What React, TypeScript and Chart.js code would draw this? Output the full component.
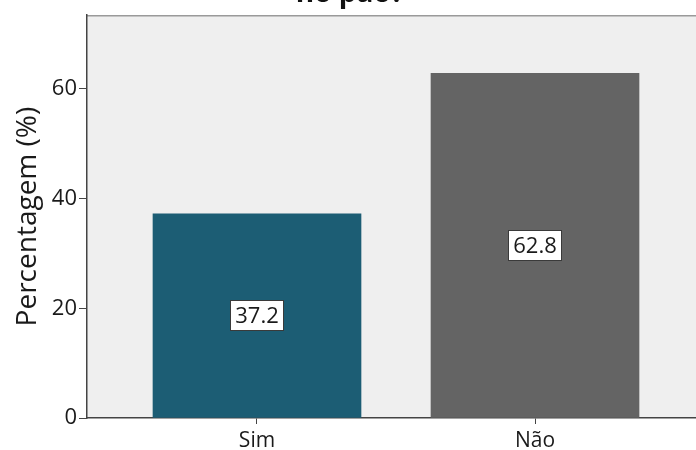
import React, { useEffect, useRef } from "react";
import { Chart, registerables } from "chart.js";

Chart.register(...registerables);

const categories = ["Sim", "Não"];
const values = [37.2, 62.8];
const barColors = ["#1c5d74", "#646464"];
const yTicks = [0, 20, 40, 60];
const titleText = "no pão?";
const yTitle = "Percentagem (%)";

const FONT = "'Open Sans', 'Noto Sans', sans-serif";

export default function App() {
  const ref = useRef<HTMLCanvasElement | null>(null);

  useEffect(() => {
    if (!ref.current) return;

    const bgPlugin = {
      id: "bgPlugin",
      beforeDraw(chart: any) {
        const { ctx, chartArea } = chart;
        ctx.save();
        ctx.fillStyle = "#efefef";
        ctx.fillRect(chartArea.left, chartArea.top, chartArea.right - chartArea.left, chartArea.bottom - chartArea.top);
        ctx.strokeStyle = "#9a9a9a";
        ctx.lineWidth = 1.5;
        ctx.beginPath();
        ctx.moveTo(chartArea.left, chartArea.top + 0.5);
        ctx.lineTo(chartArea.right, chartArea.top + 0.5);
        ctx.stroke();
        // title (partially cut off at the top)
        ctx.fillStyle = "#111";
        ctx.font = `bold 28px ${FONT}`;
        ctx.textAlign = "center";
        ctx.textBaseline = "alphabetic";
        ctx.fillText(titleText, 350, 2);
        ctx.restore();
      },
    };

    const labelPlugin = {
      id: "labelPlugin",
      afterDatasetsDraw(chart: any) {
        const { ctx } = chart;
        const meta = chart.getDatasetMeta(0);
        ctx.save();
        ctx.font = `22px ${FONT}`;
        ctx.textAlign = "center";
        ctx.textBaseline = "middle";
        meta.data.forEach((bar: any, i: number) => {
          const text = values[i].toFixed(1);
          const cx = bar.x;
          const cy = (bar.y + bar.base) / 2;
          const w = ctx.measureText(text).width + 10;
          const h = 31;
          ctx.fillStyle = "#ffffff";
          ctx.fillRect(Math.round(cx - w / 2), Math.round(cy - h / 2), Math.round(w), h);
          ctx.strokeStyle = "#3a3a3a";
          ctx.lineWidth = 1;
          ctx.strokeRect(Math.round(cx - w / 2) + 0.5, Math.round(cy - h / 2) + 0.5, Math.round(w) - 1, h - 1);
          ctx.fillStyle = "#1a1a1a";
          ctx.fillText(text, cx, cy + 1);
        });
        ctx.restore();
      },
    };

    const chart = new Chart(ref.current, {
      type: "bar",
      data: {
        datasets: [
          {
            data: categories.map((_, i) => ({ x: i, y: values[i] })) as any,
            backgroundColor: barColors,
            borderColor: barColors,
            borderWidth: 0,
            barThickness: 208,
          },
        ],
      },
      options: {
        animation: false,
        responsive: true,
        maintainAspectRatio: false,
        layout: { padding: { top: 13, right: 0, left: 0, bottom: 0 } },
        plugins: {
          legend: { display: false },
          tooltip: { enabled: false },
          title: { display: false },
        },
        scales: {
          x: {
            type: "linear",
            offset: false,
            min: -0.6115,
            max: 1.5935,
            afterBuildTicks(scale: any) {
              scale.ticks = categories.map((_, i) => ({ value: i }));
            },
            afterFit(scale: any) {
              scale.height = 32;
            },
            ticks: {
              autoSkip: false,
              maxRotation: 0,
              padding: 4,
              color: "#1a1a1a",
              font: { family: FONT, size: 21 },
              callback: (v: any) => categories[Number(v)] ?? "",
            },
            grid: {
              offset: false,
              drawOnChartArea: false,
              drawTicks: true,
              tickLength: 6,
              color: "#444",
            },
            border: { display: true, color: "#444", width: 1.5 },
          },
          y: {
            type: "linear",
            min: 0,
            max: 73.4,
            afterBuildTicks(scale: any) {
              scale.ticks = yTicks.map((v) => ({ value: v }));
            },
            afterFit(scale: any) {
              scale.width = 87;
            },
            ticks: {
              padding: 2,
              color: "#1a1a1a",
              font: { family: FONT, size: 22 },
            },
            grid: {
              drawOnChartArea: false,
              drawTicks: true,
              tickLength: 8,
              color: "#444",
            },
            border: { display: true, color: "#444", width: 1.5 },
            title: {
              display: true,
              text: yTitle,
              color: "#1a1a1a",
              font: { family: FONT, size: 28 },
              padding: { top: 11, bottom: 0 },
            },
          },
        },
      },
      plugins: [bgPlugin, labelPlugin],
    });

    return () => chart.destroy();
  }, []);

  return (
    <div style={{ position: "fixed", left: 0, top: 0, width: 696, height: 450, overflow: "hidden", background: "#fff" }}>
      <div style={{ position: "relative", width: 700, height: 450 }}>
        <canvas ref={ref} />
      </div>
    </div>
  );
}
